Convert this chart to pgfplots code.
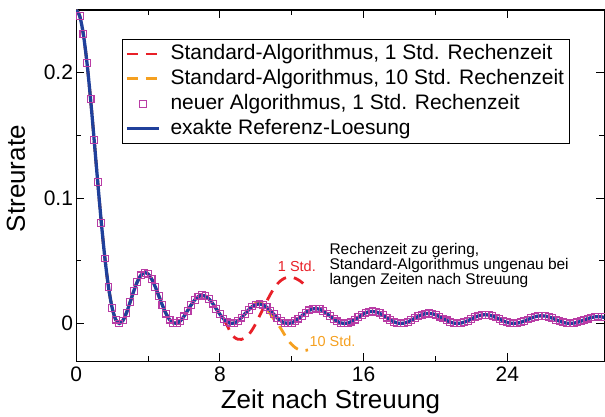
\documentclass[border=0pt]{standalone}
\usepackage{fontspec}
\setmainfont{Liberation Sans}
\usepackage{pgfplots}
\pgfplotsset{compat=1.18}
\usepackage{pgfplotstable}
\definecolor{cred}{RGB}{232,32,40}
\definecolor{corange}{RGB}{245,160,32}
\definecolor{cmag}{RGB}{185,60,165}
\definecolor{cblue}{RGB}{32,64,155}
\pgfplotsset{marklegend/.style={legend image code/.code={\draw[##1] plot coordinates {(16pt,0pt)};}}}

\pgfplotstableread{
x y
0 0.25
0.2 0.24504
0.4 0.23059
0.6 0.20794
0.8 0.17905
1.0 0.14638
1.2 0.11260
1.4 0.08033
1.6 0.05185
1.8 0.02890
2.0 0.01253
2.2 0.00305
2.4 0.00000
2.6 0.00234
2.8 0.00856
3.0 0.01691
3.2 0.02563
3.4 0.03318
3.6 0.03837
3.8 0.04051
4.0 0.03943
4.2 0.03545
4.4 0.02929
4.6 0.02193
4.8 0.01445
5.0 0.00789
5.2 0.00304
5.4 0.00043
5.6 0.00018
5.8 0.00210
6.0 0.00567
6.2 0.01018
6.4 0.01480
6.6 0.01877
6.8 0.02148
7.0 0.02251
7.2 0.02177
7.4 0.01941
7.6 0.01583
7.8 0.01160
8.0 0.00737
8.2 0.00373
8.4 0.00120
8.6 0.00005
8.8 0.00038
9.0 0.00204
9.2 0.00468
9.4 0.00781
9.6 0.01092
9.8 0.01349
10.0 0.01512
10.2 0.01558
10.4 0.01481
10.6 0.01295
10.8 0.01032
11.0 0.00733
11.2 0.00442
11.4 0.00203
11.6 0.00050
11.8 0.00000
12.0 0.00057
12.174 0.001820
12.370 0.003851
12.566 0.006207
12.763 0.008508
12.959 0.010399
13.155 0.011593
13.352 0.011920
13.548 0.011342
13.745 0.009958
13.941 0.007987
14.137 0.005728
14.334 0.003517
14.530 0.001671
14.726 0.000446
14.923 0.000000
15.119 0.000367
15.315 0.001462
15.512 0.003090
15.708 0.004985
15.904 0.006846
16.101 0.008383
16.297 0.009366
16.493 0.009650
16.690 0.009200
16.886 0.008094
17.082 0.006504
17.279 0.004672
17.475 0.002871
17.672 0.001364
17.868 0.000363
18.064 0.000000
18.261 0.000309
18.457 0.001222
18.653 0.002581
18.850 0.004166
19.046 0.005726
19.242 0.007022
19.439 0.007856
19.635 0.008106
19.831 0.007739
20.028 0.006818
20.224 0.005486
20.420 0.003945
20.617 0.002426
20.813 0.001152
21.009 0.000306
21.206 0.000000
21.402 0.000266
21.599 0.001049
21.795 0.002215
21.991 0.003577
22.188 0.004922
22.384 0.006041
22.580 0.006765
22.777 0.006988
22.973 0.006679
23.169 0.005889
23.366 0.004742
23.562 0.003413
23.758 0.002100
23.955 0.000998
24.151 0.000264
24.347 0.000000
24.544 0.000234
24.740 0.000919
24.936 0.001940
25.133 0.003135
25.329 0.004315
25.526 0.005300
25.722 0.005940
25.918 0.006141
26.115 0.005873
26.311 0.005183
26.507 0.004177
26.704 0.003008
26.900 0.001852
27.096 0.000879
27.293 0.000232
27.489 0.000000
27.685 0.000209
27.882 0.000818
28.078 0.001726
28.274 0.002790
28.471 0.003842
28.667 0.004722
28.863 0.005295
29.060 0.005477
29.256 0.005242
29.452 0.004629
}\exact

\pgfplotstableread{
x y
0 0.25
0.2 0.24504
0.4 0.23059
0.6 0.20794
0.8 0.17905
1.0 0.14638
1.2 0.11260
1.4 0.08033
1.6 0.05185
1.8 0.02890
2.0 0.01253
2.2 0.00305
2.4 0.00000
2.6 0.00234
2.8 0.00856
3.0 0.01691
3.2 0.02563
3.4 0.03318
3.6 0.03837
3.8 0.04051
4.0 0.03943
4.2 0.03545
4.4 0.02929
4.6 0.02193
4.8 0.01445
5.0 0.00789
5.2 0.00304
5.4 0.00043
5.6 0.00018
5.8 0.00210
6.0 0.00567
6.2 0.01018
6.4 0.01480
6.6 0.01877
6.8 0.02148
7.0 0.02251
7.2 0.02177
7.4 0.01941
7.6 0.01583
7.8 0.01160
8.0 0.00740
8.2 0.00350
8.4 -0.00150
8.6 -0.00750
8.8 -0.01100
9.0 -0.01260
9.2 -0.01270
9.4 -0.01150
9.6 -0.00900
9.8 -0.00500
10.0 0.00000
10.2 0.00580
10.4 0.01150
10.6 0.01750
10.8 0.02300
11.0 0.02780
11.2 0.03160
11.4 0.03430
11.6 0.03610
11.8 0.03700
12.0 0.03690
12.2 0.03600
12.4 0.03450
12.6 0.03230
12.8 0.02960
12.9 0.02820
}\redstd

\pgfplotstableread{
x y
0 0.25
0.2 0.24504
0.4 0.23059
0.6 0.20794
0.8 0.17905
1.0 0.14638
1.2 0.11260
1.4 0.08033
1.6 0.05185
1.8 0.02890
2.0 0.01253
2.2 0.00305
2.4 0.00000
2.6 0.00234
2.8 0.00856
3.0 0.01691
3.2 0.02563
3.4 0.03318
3.6 0.03837
3.8 0.04051
4.0 0.03943
4.2 0.03545
4.4 0.02929
4.6 0.02193
4.8 0.01445
5.0 0.00789
5.2 0.00304
5.4 0.00043
5.6 0.00018
5.8 0.00210
6.0 0.00567
6.2 0.01018
6.4 0.01480
6.6 0.01877
6.8 0.02148
7.0 0.02251
7.2 0.02177
7.4 0.01941
7.6 0.01583
7.8 0.01160
8.0 0.00737
8.2 0.00373
8.4 0.00120
8.6 0.00005
8.8 0.00038
9.0 0.00204
9.2 0.00468
9.4 0.00781
9.6 0.01092
9.8 0.01400
10.0 0.01630
10.2 0.01710
10.4 0.01550
10.6 0.01200
10.8 0.00760
11.0 0.00350
11.2 -0.00020
11.4 -0.00420
11.6 -0.00900
11.8 -0.01350
12.0 -0.01680
12.2 -0.01930
12.4 -0.02100
12.6 -0.02180
12.8 -0.02140
12.9 -0.02100
}\orangestd

\begin{document}
\begin{tikzpicture}
\begin{axis}[
  scale only axis, width=529pt, height=352pt,
  xmin=0, xmax=29.4, ymin=-0.0303, ymax=0.25,
  axis line style={line width=1.2pt},
  xtick={0,8,16,24}, minor x tick num=1,
  ytick={0,0.1,0.2}, minor y tick num=1,
  major tick length=8pt, minor tick length=5pt,
  every tick/.style={line width=1.1pt, black},
  tick align=inside,
  /pgf/number format/assume math mode=true,
  ticklabel style={font=\fontsize{21}{25}\selectfont},
  yticklabel style={/pgf/number format/fixed, inner sep=3pt},
  xticklabel style={inner sep=5pt},
  xlabel={Zeit nach Streuung}, ylabel={Streurate},
  label style={font=\fontsize{26}{30}\selectfont},
  xlabel style={at={(axis description cs:0.4815,-0.1335)}, anchor=base},
  ylabel style={at={(axis description cs:-0.097,0.52)}, anchor=base},
  legend style={at={(axis description cs:0.0864,0.9176)}, anchor=north west,
    font=\fontsize{21}{25}\selectfont, draw=black, line width=1pt,
    inner sep=3pt, row sep=2pt, column sep=8pt,
    nodes={inner sep=2pt, text height=15pt, text depth=4pt}},
  legend cell align=left,
  legend image code/.code={\draw[#1] plot coordinates {(0pt,0pt) (32pt,0pt)};},
  clip=true,
]
\addplot[cred, line width=2.8pt, dash pattern=on 11pt off 8pt, smooth] table {\redstd};
\addlegendentry{Standard-Algorithmus, 1 Std. Rechenzeit}
\addplot[corange, line width=2.8pt, dash pattern=on 11pt off 8pt, smooth] table {\orangestd};
\addlegendentry{Standard-Algorithmus, 10 Std. Rechenzeit}
\addplot[only marks, mark=square, mark size=3.4pt, mark options={draw=cmag, line width=1.1pt, fill=none}, marklegend, skip coords between index={0}{1}] table {\exact};
\addlegendentry{neuer Algorithmus, 1 Std. Rechenzeit}
\addplot[cblue, line width=3.3pt, smooth, no marks] table {\exact};
\addlegendentry{exakte Referenz-Loesung}

\node[anchor=base west, inner sep=0, font=\fontsize{15.5}{15}\selectfont] at (axis cs:14.09,0.0549) {Rechenzeit zu gering,};
\node[anchor=base west, inner sep=0, font=\fontsize{15.5}{15}\selectfont] at (axis cs:14.09,0.0430) {Standard-Algorithmus ungenau bei};
\node[anchor=base west, inner sep=0, font=\fontsize{15.5}{15}\selectfont] at (axis cs:14.09,0.0311) {langen Zeiten nach Streuung};
\node[anchor=base west, inner sep=0, text=cred, font=\fontsize{14.5}{15}\selectfont] at (axis cs:11.22,0.0412) {1 Std.};
\node[anchor=base west, inner sep=0, text=corange, font=\fontsize{14.5}{15}\selectfont] at (axis cs:12.98,-0.0186) {10 Std.};
\end{axis}
\pgfresetboundingbox
\path[use as bounding box] ([shift={(-76.3pt,-55pt)}]current axis.south west) rectangle ([shift={(0.6pt,10pt)}]current axis.north east);
\end{tikzpicture}
\end{document}
